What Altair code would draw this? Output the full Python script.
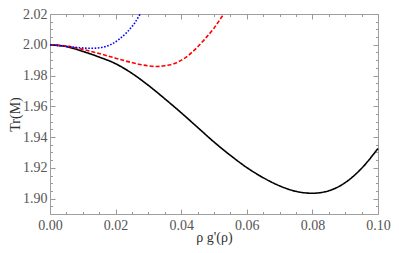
import altair as alt
import pandas as pd

# black solid curve
bx = [0.0, 0.005, 0.01, 0.015, 0.02, 0.025, 0.03, 0.035, 0.04, 0.045, 0.05,
      0.055, 0.06, 0.065, 0.07, 0.075, 0.08, 0.085, 0.09, 0.095, 0.1]
by = [2.0, 1.9988, 1.9957, 1.9920, 1.9877, 1.9814, 1.9736, 1.9649, 1.9558, 1.9463, 1.9368,
      1.9281, 1.9202, 1.9136, 1.9083, 1.9047, 1.9035, 1.9051, 1.9104, 1.9197, 1.9326]
# red dashed curve
rx = [0.0, 0.005, 0.01, 0.015, 0.02, 0.025, 0.03, 0.0325, 0.035, 0.038, 0.041,
      0.044, 0.047, 0.05, 0.0525, 0.053]
ry = [2.0, 1.9991, 1.9970, 1.9943, 1.9913, 1.9884, 1.9863, 1.9859, 1.9864, 1.9879, 1.9912,
      1.9965, 2.0032, 2.0108, 2.0185, 2.0200]
# blue dotted curve
ux = [0.0, 0.005, 0.009, 0.0125, 0.0155, 0.0185, 0.021, 0.0235, 0.0255, 0.0275]
uy = [2.0, 1.9990, 1.9981, 1.9977, 1.9982, 2.0001, 2.0035, 2.0082, 2.0132, 2.0200]

x_major = [0.0, 0.02, 0.04, 0.06, 0.08, 0.1]
x_minor = [0.005, 0.01, 0.015, 0.025, 0.03, 0.035, 0.045, 0.05, 0.055,
           0.065, 0.07, 0.075, 0.085, 0.09, 0.095]
y_major = [1.90, 1.92, 1.94, 1.96, 1.98, 2.00, 2.02]
y_minor = [1.895, 1.905, 1.91, 1.915, 1.925, 1.93, 1.935, 1.945, 1.95, 1.955,
           1.965, 1.97, 1.975, 1.985, 1.99, 1.995, 2.005, 2.01, 2.015]

W, H = 328, 200
FONT = "Liberation Serif"
TICK = "#9a9a9a"

df = pd.concat([
    pd.DataFrame({"x": bx, "y": by, "s": "black"}),
    pd.DataFrame({"x": rx, "y": ry, "s": "red"}),
    pd.DataFrame({"x": ux, "y": uy, "s": "blue"}),
])

xs = alt.Scale(domain=[0, 0.1], nice=False, zero=False)
ys = alt.Scale(domain=[1.89, 2.02], nice=False, zero=False)

base = alt.Chart(df)

def curve(name, color, dash):
    return base.transform_filter(alt.datum.s == name).mark_line(
        color=color, strokeWidth=1.6, strokeDash=dash, interpolate="monotone"
    )

main_axes_x = alt.Axis(orient="bottom", values=x_major, format=".2f", ticks=False, domain=False,
                       grid=False, labelFont=FONT, labelFontSize=14, labelColor="#555555",
                       labelPadding=4, labelFlush=False, labelOverlap=False,
                       title="ρ g'(ρ)", titleFont=FONT, titleFontSize=14,
                       titleFontWeight="normal", titleColor="#333333",
                       titleBaseline="alphabetic", titleY=27)
main_axes_y = alt.Axis(orient="left", values=y_major, format=".2f", ticks=False, domain=False,
                       grid=False, labelFont=FONT, labelFontSize=14, labelColor="#555555",
                       labelPadding=3, labelFlush=False, labelOverlap=False,
                       title="Tr(M)", titleFont=FONT, titleFontSize=14,
                       titleFontWeight="normal", titleColor="#333333", titlePadding=0)

black = curve("black", "#000000", [1, 0]).encode(
    x=alt.X("x:Q", scale=xs, axis=main_axes_x),
    y=alt.Y("y:Q", scale=ys, axis=main_axes_y),
    order="x:Q",
)
red = curve("red", "#ff0000", [4, 2]).encode(
    x=alt.X("x:Q", scale=xs, axis=None), y=alt.Y("y:Q", scale=ys, axis=None), order="x:Q")
blue = curve("blue", "#0000ff", [1.6, 1.6]).encode(
    x=alt.X("x:Q", scale=xs, axis=None), y=alt.Y("y:Q", scale=ys, axis=None), order="x:Q")

def tick_layer(xorient, yorient, xvals, yvals, size):
    xa = alt.Axis(orient=xorient, offset=-H, values=xvals, labels=False, domain=False, grid=False,
                  ticks=True, tickSize=size, tickColor=TICK, tickWidth=1, title=None)
    ya = alt.Axis(orient=yorient, offset=-W, values=yvals, labels=False, domain=False, grid=False,
                  ticks=True, tickSize=size, tickColor=TICK, tickWidth=1, title=None)
    return base.mark_line(opacity=0).encode(
        x=alt.X("x:Q", scale=xs, axis=xa), y=alt.Y("y:Q", scale=ys, axis=ya))

t1 = tick_layer("top", "right", x_major, y_major, 5)
t2 = tick_layer("top", "right", x_minor, y_minor, 2.5)
t3 = tick_layer("bottom", "left", x_major, y_major, 5)
t4 = tick_layer("bottom", "left", x_minor, y_minor, 2.5)

chart = alt.layer(black, red, blue, t1, t2, t3, t4).resolve_axis(
    x="independent", y="independent"
).properties(
    width=W, height=H,
    autosize=alt.AutoSizeParams(type="none"),
    padding={"left": 42, "top": 6, "right": 13, "bottom": 31},
).configure_view(stroke="#a0a0a0", strokeWidth=1)

chart.save("out.html", embed_options={"renderer": "svg", "actions": False})
